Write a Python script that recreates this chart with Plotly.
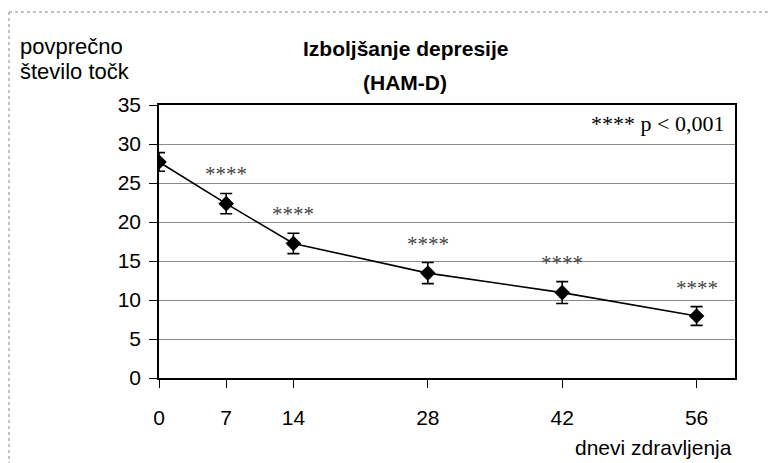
import plotly.graph_objects as go

days = [0, 7, 14, 28, 42, 56]
mean_score = [27.7, 22.35, 17.25, 13.45, 10.95, 7.95]
err = [1.2, 1.3, 1.3, 1.35, 1.4, 1.2]
star_y = [None, 26.2, 21.0, 17.2, 14.7, 11.6]
star_text = "****"
x_ticks = [0, 7, 14, 28, 42, 56]
y_ticks = [0, 5, 10, 15, 20, 25, 30, 35]

OFF = 8  # page body margin offset
W, H = 776 - OFF, 463 - OFF
L, R, T, B = 159 - OFF, 735 - OFF, 105 - OFF, 378 - OFF

def xp(px):
    return (px - OFF - L) / (R - L)

def yp(py):
    return (B - (py - OFF)) / (B - T)

fig = go.Figure()
fig.add_trace(go.Scatter(
    x=days, y=mean_score, mode="lines+markers",
    line=dict(color="black", width=1.6),
    marker=dict(symbol="diamond", size=12, color="black"),
    error_y=dict(type="data", array=err, visible=True, color="black", thickness=1.6, width=6),
    showlegend=False, hoverinfo="skip",
))

annotations = []
for d, sy in zip(days, star_y):
    if sy is None:
        continue
    annotations.append(dict(x=d, y=sy, xref="x", yref="y", text=star_text, showarrow=False,
                            font=dict(family="Liberation Serif", size=21, color="#444"),
                            xanchor="center", yanchor="middle"))

annotations += [
    dict(x=xp(726), y=yp(123), xref="paper", yref="paper", text="**** p &lt; 0,001", showarrow=False,
         font=dict(family="Liberation Serif", size=22, color="black"), xanchor="right", yanchor="middle"),
    dict(x=xp(405), y=yp(48), xref="paper", yref="paper", text="<b>Izboljšanje depresije</b>", showarrow=False,
         font=dict(family="Liberation Sans", size=21, color="black"), xanchor="center", yanchor="middle"),
    dict(x=xp(405), y=yp(82), xref="paper", yref="paper", text="<b>(HAM-D)</b>", showarrow=False,
         font=dict(family="Liberation Sans", size=21, color="black"), xanchor="center", yanchor="middle"),
    dict(x=xp(18), y=yp(46), xref="paper", yref="paper", text="povprečno", showarrow=False,
         font=dict(family="Liberation Sans", size=22, color="black"), xanchor="left", yanchor="middle"),
    dict(x=xp(18), y=yp(72), xref="paper", yref="paper", text="število točk", showarrow=False,
         font=dict(family="Liberation Sans", size=22, color="black"), xanchor="left", yanchor="middle"),
    dict(x=xp(734), y=yp(447), xref="paper", yref="paper", text="dnevi zdravljenja", showarrow=False,
         font=dict(family="Liberation Sans", size=21, color="black"), xanchor="right", yanchor="middle"),
]

shapes = [
    dict(type="line", xref="paper", yref="paper", x0=xp(9), x1=xp(776), y0=yp(12), y1=yp(12),
         line=dict(color="#888", width=1, dash="dot")),
    dict(type="line", xref="paper", yref="paper", x0=xp(9), x1=xp(9), y0=yp(12), y1=yp(463),
         line=dict(color="#888", width=1, dash="dot")),
]

fig.update_layout(
    width=W, height=H,
    margin=dict(l=L, r=W - R, t=T, b=H - B),
    paper_bgcolor="white", plot_bgcolor="white",
    font=dict(family="Liberation Sans", size=21, color="black"),
    annotations=annotations, shapes=shapes,
    xaxis=dict(range=[0, 60], tickmode="array", tickvals=x_ticks, ticktext=[str(v) for v in x_ticks],
               showgrid=False, zeroline=False, showline=True, linecolor="black", linewidth=1.5,
               mirror=True, ticks="outside", ticklen=8, tickcolor="black",
               tickfont=dict(size=21), ticklabelstandoff=12),
    yaxis=dict(range=[0, 35], tickmode="array", tickvals=y_ticks,
               showgrid=True, gridcolor="#8a8a8a", gridwidth=1, zeroline=False,
               showline=True, linecolor="black", linewidth=1.5, mirror=True,
               ticks="outside", ticklen=8, tickcolor="black", tickfont=dict(size=21),
               ticklabelstandoff=4),
)

fig.write_html("out.html")
